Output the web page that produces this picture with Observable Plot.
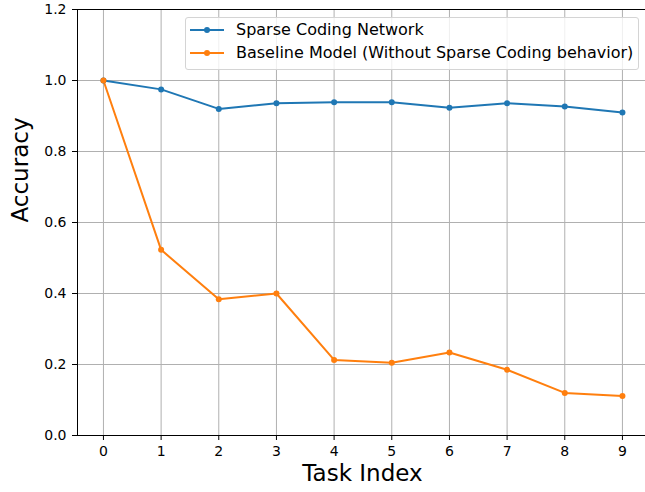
<!DOCTYPE html>
<html><head><meta charset="utf-8">
<script src="https://cdn.jsdelivr.net/npm/d3@7"></script>
<script src="https://cdn.jsdelivr.net/npm/@observablehq/plot@0.6"></script>
<style>
body{margin:0;background:#fff;font-family:"DejaVu Sans",sans-serif}
#wrap{position:relative;width:645px;height:492px;overflow:hidden}
#legend{position:absolute;left:185px;top:17px;width:452px;height:51px;border:1px solid #d4d4d4;border-radius:3px;background:rgba(255,255,255,0.8);font-size:16px;color:#000}
.row{position:absolute;left:0;height:20px;width:100%}
.row svg{position:absolute;left:3px;top:0}
.row span{position:absolute;left:50px;top:0px;white-space:nowrap;line-height:20px}
</style></head><body><div id="wrap"><div id="legend"></div></div>
<script>
const tasks = [0, 1, 2, 3, 4, 5, 6, 7, 8, 9];
const sparseAcc = [1.0, 0.975, 0.920, 0.936, 0.939, 0.939, 0.923, 0.936, 0.927, 0.910];
const baselineAcc = [1.0, 0.523, 0.384, 0.400, 0.213, 0.205, 0.234, 0.185, 0.120, 0.111];
const seriesNames = ["Sparse Coding Network", "Baseline Model (Without Sparse Coding behavior)"];
const seriesColors = ["#1f77b4", "#ff7f0e"];
const yTicks = [0, 0.2, 0.4, 0.6, 0.8, 1.0, 1.2];
const xLabel = "Task Index";
const yLabel = "Accuracy";

const seriesValues = [sparseAcc, baselineAcc];
const rows = seriesNames.flatMap((s, i) => tasks.map((t, j) => ({task: t, acc: seriesValues[i][j], series: s})));

const grid = {stroke: "#b0b0b0", strokeOpacity: 1, strokeWidth: 1};
const chart = Plot.plot({
  width: 645, height: 492,
  marginLeft: 77, marginRight: 0, marginTop: 9, marginBottom: 57,
  style: {fontFamily: "DejaVu Sans", fontSize: "14px", background: "#fff", color: "#000"},
  x: {domain: [-0.45, 9.4], label: null},
  y: {domain: [0, 1.2], label: null},
  color: {domain: seriesNames, range: seriesColors},
  marks: [
    Plot.gridX(tasks, grid),
    Plot.gridY(yTicks, grid),
    Plot.ruleX([-0.45], {stroke: "#000", strokeWidth: 1}),
    Plot.ruleY([0, 1.2], {stroke: "#000", strokeWidth: 1}),
    Plot.axisX(tasks, {tickSize: 5, tickPadding: 6, fontSize: 14, label: null, stroke: "#000"}),
    Plot.axisY(yTicks, {tickSize: 5, tickPadding: 6, fontSize: 14, tickFormat: d3.format(".1f"), label: null, stroke: "#000"}),
    Plot.line(rows, {x: "task", y: "acc", stroke: "series", z: "series", strokeWidth: 2}),
    Plot.dot(rows, {x: "task", y: "acc", fill: "series", r: 3}),
    Plot.text([xLabel], {frameAnchor: "bottom", dy: 45, dx: 1, text: d => d, fontSize: 23, fill: "#000"}),
    Plot.text([yLabel], {frameAnchor: "left", dx: -57, rotate: -90, text: d => d, fontSize: 23, fill: "#000"})
  ]
});
const wrap = document.getElementById("wrap");
wrap.insertBefore(chart, wrap.firstChild);

const legend = document.getElementById("legend");
seriesNames.forEach((name, i) => {
  const row = document.createElement("div");
  row.className = "row";
  row.style.top = (2 + i * 23) + "px";
  row.innerHTML = `<svg width="36" height="20"><line x1="1" x2="35" y1="10" y2="10" stroke="${seriesColors[i]}" stroke-width="2"/><circle cx="18" cy="10" r="3" fill="${seriesColors[i]}"/></svg><span>${name}</span>`;
  legend.appendChild(row);
});
</script>
</body></html>
